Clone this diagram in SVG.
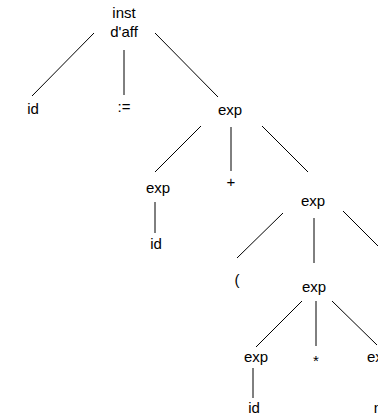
<svg xmlns="http://www.w3.org/2000/svg" width="378" height="417" viewBox="0 0 378 417">
  <style>
    text { font-family: "Liberation Sans", Arial, sans-serif; font-size: 15px; fill: #000; text-anchor: middle; }
    .edge { stroke: #000; stroke-width: 1; fill: none; }
  </style>
  <rect width="378" height="417" fill="#fff"/>
  <g id="connectors">
    <line class="edge" x1="94" y1="33" x2="32" y2="96"/>
    <line class="edge" x1="124" y1="50" x2="124" y2="95"/>
    <line class="edge" x1="155" y1="33" x2="218" y2="97"/>
    <line class="edge" x1="201" y1="126" x2="155" y2="172"/>
    <line class="edge" x1="231" y1="127" x2="231" y2="171"/>
    <line class="edge" x1="262" y1="126" x2="308" y2="172"/>
    <line class="edge" x1="155" y1="202" x2="155" y2="233"/>
    <line class="edge" x1="283" y1="213" x2="237" y2="258"/>
    <line class="edge" x1="314" y1="218" x2="314" y2="263"/>
    <line class="edge" x1="343" y1="211" x2="382" y2="250"/>
    <line class="edge" x1="302" y1="301" x2="256" y2="347"/>
    <line class="edge" x1="316" y1="301" x2="316" y2="346"/>
    <line class="edge" x1="332" y1="301" x2="377" y2="345"/>
    <line class="edge" x1="253" y1="368" x2="253" y2="398"/>
  </g>
  <g id="inst"><text x="124" y="18">inst</text><text x="124" y="37">d'aff</text></g>
  <g id="id1"><text x="33" y="114">id</text></g>
  <g id="assign"><text x="124" y="112">:=</text></g>
  <g id="exp1"><text x="230" y="115">exp</text></g>
  <g id="exp2"><text x="158" y="193">exp</text></g>
  <g id="id2"><text x="156" y="249">id</text></g>
  <g id="plus"><text x="231" y="187">+</text></g>
  <g id="exp3"><text x="313" y="206">exp</text></g>
  <g id="lparen"><text x="237" y="285">(</text></g>
  <g id="exp4"><text x="314" y="292">exp</text></g>
  <g id="exp5"><text x="256" y="362">exp</text></g>
  <g id="times"><text x="316" y="366">*</text></g>
  <g id="exp6"><text x="379" y="362">exp</text></g>
  <g id="id3"><text x="254" y="413">id</text></g>
  <g id="nb"><text x="382" y="413">nb</text></g>
</svg>
